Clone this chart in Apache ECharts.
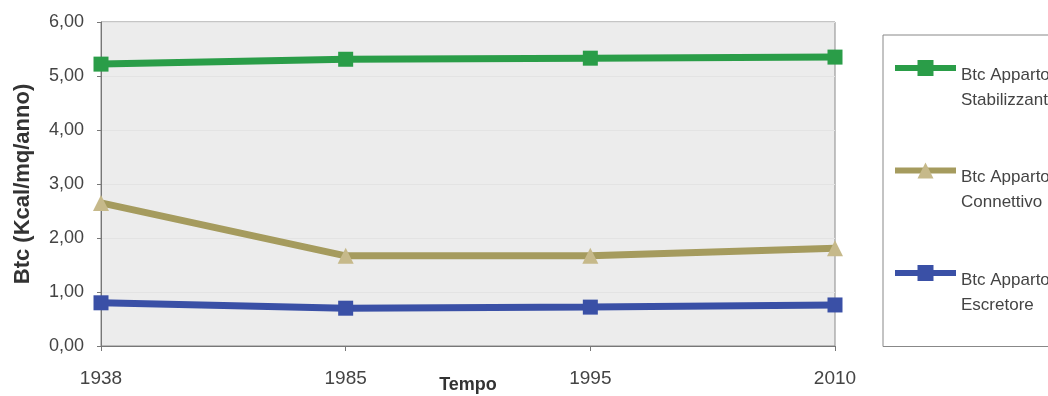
<!DOCTYPE html>
<html>
<head>
<meta charset="utf-8">
<script src="https://cdn.jsdelivr.net/npm/echarts@6/dist/echarts.min.js"></script>
<style>
html,body{margin:0;padding:0;background:#fff;}
#c{width:1048px;height:396px;}
</style>
</head>
<body>
<div id="c"></div>
<script>
const categories = ['1938', '1985', '1995', '2010'];
const stabilizzante = [5.22, 5.31, 5.33, 5.35];
const connettivo = [2.65, 1.67, 1.67, 1.81];
const escretore = [0.80, 0.70, 0.72, 0.76];
const seriesNames = ['Btc Apparto\nStabilizzante', 'Btc Apparto\nConnettivo', 'Btc Apparto\nEscretore'];
const yTitle = 'Btc (Kcal/mq/anno)';
const xTitle = 'Tempo';

const font = 'Liberation Sans, Arial, sans-serif';
const chart = echarts.init(document.getElementById('c'));

function mkSeries(name, data, color, symbol, symColor) {
  return {
    name: name, type: 'line', data: data,
    symbol: symbol, symbolSize: symbol === 'triangle' ? 16 : 15,
    lineStyle: { color: color, width: 7 },
    itemStyle: { color: symColor || color },
    emphasis: { disabled: true },
    z: 3
  };
}

chart.setOption({
  animation: false,
  backgroundColor: '#ffffff',
  grid: {
    left: 101, right: 213, top: 22, bottom: 50,
    containLabel: false, outerBoundsMode: 'none',
    show: true, backgroundColor: '#ececec', borderColor: '#8a8a8a', borderWidth: 1
  },
  legend: {
    orient: 'vertical',
    left: 883, top: 35,
    padding: [3, 200, 33, 9],
    itemGap: 32,
    itemWidth: 61, itemHeight: 20,
    backgroundColor: '#ffffff',
    borderColor: '#888888', borderWidth: 1,
    lineStyle: { width: 6 },
    formatter: function (name) {
      return '{s| }\n' + name.split('\n').map(function (l) { return '{a|' + l + '}'; }).join('\n');
    },
    textStyle: {
      fontFamily: font, fontSize: 17, color: '#444',
      rich: {
        s: { lineHeight: 39, fontSize: 10 },
        a: { fontFamily: font, fontSize: 17, color: '#444', lineHeight: 25 }
      }
    },
    data: seriesNames
  },
  xAxis: {
    type: 'category', data: categories, boundaryGap: false,
    name: xTitle, nameLocation: 'middle', nameGap: 30, nameMoveOverlap: false,
    nameTextStyle: { fontFamily: font, fontSize: 18, fontWeight: 'bold', color: '#333' },
    axisLine: { show: true, lineStyle: { color: '#777', width: 1 } },
    axisTick: { show: true, length: 5, alignWithLabel: true, lineStyle: { color: '#777' } },
    axisLabel: { margin: 23, fontFamily: font, fontSize: 19, color: '#444' },
    splitLine: { show: false }
  },
  yAxis: {
    type: 'value', min: 0, max: 6, interval: 1,
    name: yTitle, nameLocation: 'middle', nameGap: 67, nameMoveOverlap: false,
    nameTextStyle: { fontFamily: font, fontSize: 22, fontWeight: 'bold', color: '#333' },
    axisLine: { show: true, lineStyle: { color: '#777', width: 1 } },
    axisTick: { show: true, length: 4, lineStyle: { color: '#777' } },
    axisLabel: {
      margin: 17, fontFamily: font, fontSize: 18, color: '#444',
      formatter: function (v) { return v.toFixed(2).replace('.', ','); }
    },
    splitLine: { show: true, lineStyle: { color: '#e3e3e3', width: 1 } }
  },
  series: [
    mkSeries(seriesNames[0], stabilizzante, '#2a9d48', 'rect'),
    mkSeries(seriesNames[1], connettivo, '#a59b5e', 'triangle', '#c6b98a'),
    mkSeries(seriesNames[2], escretore, '#3a50a6', 'rect')
  ]
});
</script>
</body>
</html>
